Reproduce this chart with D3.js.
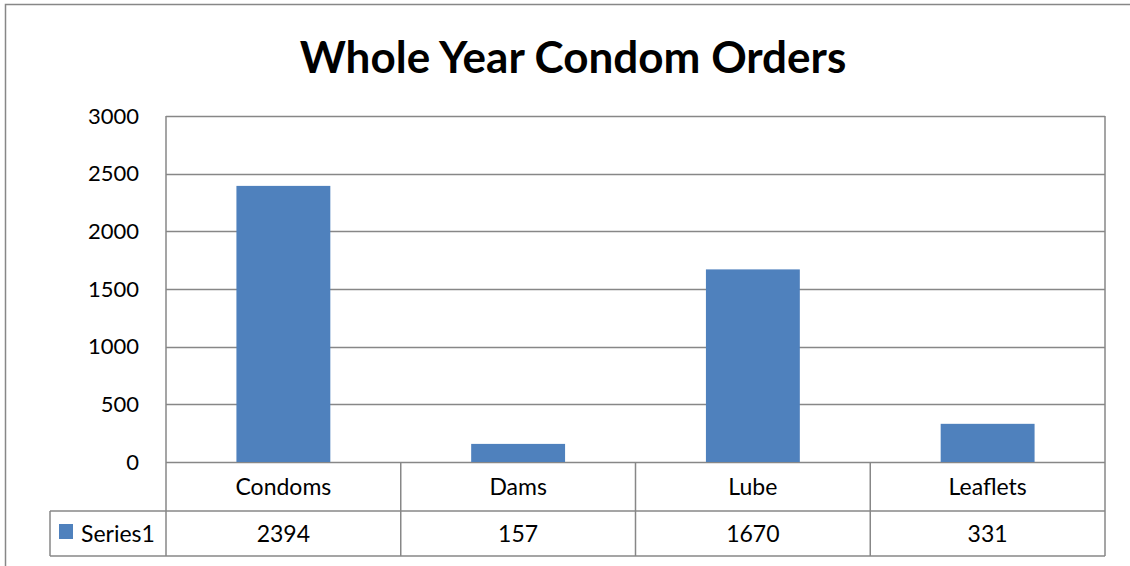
<!DOCTYPE html>
<html lang="en">
<head>
    <meta charset="UTF-8">
    <title>Whole Year Condom Orders</title>
    <script src="https://d3js.org/d3.v7.min.js"></script>
    <style>
        body { margin: 0; background: #fff; }
        svg { display: block; font-family: 'Lato', 'Open Sans', sans-serif; }
    </style>
</head>
<body>
    <svg width="1130" height="566"></svg>
    <script>
        const categories = ["Condoms", "Dams", "Lube", "Leaflets"];
        const series1 = [2394, 157, 1670, 331];
        const seriesName = "Series1";
        const yTicks = [0, 500, 1000, 1500, 2000, 2500, 3000];

        const width = 1130, height = 566;
        const plot = { left: 166, right: 1105, top: 116, bottom: 462 };
        const rowH1 = 49, rowH2 = 45;
        const gridColor = "#878787";
        const barColor = "#4F81BD";
        const labelSize = 23;

        const svg = d3.select("svg");

        // chart border (runs off the right/bottom edge)
        svg.append("rect")
            .attr("x", 5.5).attr("y", 4.5)
            .attr("width", width + 20).attr("height", height + 20)
            .attr("fill", "none").attr("stroke", gridColor).attr("stroke-width", 1.5);

        svg.append("text")
            .attr("x", 573).attr("y", 73)
            .attr("text-anchor", "middle")
            .attr("font-size", 44).attr("font-weight", "bold")
            .text("Whole Year Condom Orders");

        const x = d3.scaleBand()
            .domain(categories)
            .range([plot.left, plot.right])
            .paddingInner(0.6).paddingOuter(0.3);

        const y = d3.scaleLinear().domain([0, 3000]).range([plot.bottom, plot.top]);

        // gridlines
        svg.append("g").selectAll("line")
            .data(yTicks)
            .join("line")
            .attr("x1", plot.left).attr("x2", plot.right)
            .attr("y1", d => Math.round(y(d)) + 0.5).attr("y2", d => Math.round(y(d)) + 0.5)
            .attr("stroke", gridColor).attr("stroke-width", 1.5);

        // y axis labels
        svg.append("g").selectAll("text")
            .data(yTicks)
            .join("text")
            .attr("x", 139).attr("y", d => y(d))
            .attr("dy", "0.35em")
            .attr("text-anchor", "end")
            .attr("font-size", 22)
            .text(d => d);

        // bars
        svg.append("g").selectAll("rect")
            .data(series1)
            .join("rect")
            .attr("x", (d, i) => x(categories[i]))
            .attr("width", x.bandwidth())
            .attr("y", d => y(d))
            .attr("height", d => y(0) - y(d))
            .attr("fill", barColor);

        // data table
        const colW = (plot.right - plot.left) / categories.length;
        const colX = categories.map((c, i) => plot.left + i * colW);
        const t = svg.append("g").attr("stroke", gridColor).attr("stroke-width", 1.5).attr("fill", "none");
        const r1 = plot.bottom + rowH1, r2 = r1 + rowH2;

        t.append("line").attr("x1", plot.left).attr("x2", plot.left).attr("y1", plot.top).attr("y2", r2);
        t.append("line").attr("x1", plot.right).attr("x2", plot.right).attr("y1", plot.top).attr("y2", r2);
        t.append("line").attr("x1", 50).attr("x2", plot.right).attr("y1", r1).attr("y2", r1);
        t.append("line").attr("x1", 50).attr("x2", plot.right).attr("y1", r2).attr("y2", r2);
        t.append("line").attr("x1", 50).attr("x2", 50).attr("y1", r1).attr("y2", r2);
        t.selectAll(".sep")
            .data(colX.slice(1))
            .join("line")
            .attr("x1", d => d).attr("x2", d => d)
            .attr("y1", plot.bottom).attr("y2", r2);

        svg.append("g").selectAll("text")
            .data(categories)
            .join("text")
            .attr("x", (d, i) => colX[i] + colW / 2)
            .attr("y", plot.bottom + rowH1 / 2)
            .attr("dy", "0.35em")
            .attr("text-anchor", "middle")
            .attr("font-size", labelSize)
            .text(d => d);

        svg.append("g").selectAll("text")
            .data(series1)
            .join("text")
            .attr("x", (d, i) => colX[i] + colW / 2)
            .attr("y", r1 + rowH2 / 2)
            .attr("dy", "0.35em")
            .attr("text-anchor", "middle")
            .attr("font-size", labelSize)
            .text(d => d);

        // legend key
        svg.append("rect")
            .attr("x", 59).attr("y", r1 + 13)
            .attr("width", 14).attr("height", 15)
            .attr("fill", barColor);
        svg.append("text")
            .attr("x", 81).attr("y", r1 + rowH2 / 2)
            .attr("dy", "0.35em")
            .attr("font-size", labelSize)
            .text(seriesName);
    </script>
</body>
</html>
